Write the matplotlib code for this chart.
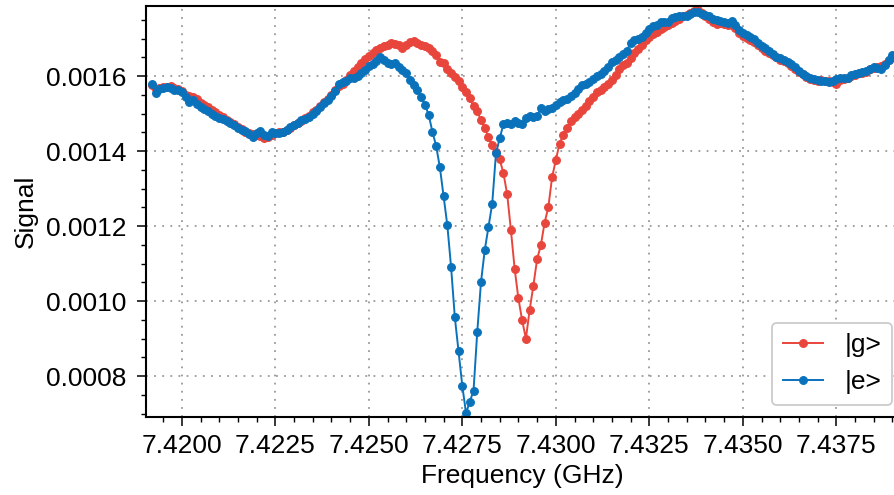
import numpy as np
import matplotlib
matplotlib.use("Agg")
import matplotlib.pyplot as plt
from matplotlib.ticker import MultipleLocator, FormatStrFormatter

plt.rcParams['font.family'] = ['Liberation Sans', 'DejaVu Sans']

# frequency sweep (GHz)
freq = np.linspace(7.4192, 7.4390, 199)

# measured signal for ground state |g> (units of 1e-6)
signal_g = np.array([
    1577, 1566, 1568, 1570, 1572, 1574, 1568, 1565, 1560, 1550,
    1546, 1545, 1540, 1528, 1522, 1518, 1509, 1505, 1496, 1490,
    1484, 1478, 1471, 1465, 1459, 1452, 1448, 1446, 1443, 1440,
    1434, 1438, 1444, 1447, 1450, 1452, 1457, 1462, 1470, 1474,
    1480, 1487, 1494, 1503, 1510, 1520, 1530, 1540, 1550, 1562,
    1574, 1580, 1590, 1602, 1613, 1624, 1636, 1645, 1653, 1662,
    1670, 1674, 1679, 1684, 1688, 1686, 1682, 1675, 1683, 1690,
    1694, 1689, 1684, 1680, 1675, 1667, 1656, 1638, 1634, 1620,
    1607, 1597, 1588, 1572, 1557, 1541, 1519, 1506, 1483, 1462,
    1437, 1415, 1398, 1378, 1341, 1285, 1189, 1086, 1007, 949,
    900, 976, 1041, 1112, 1149, 1209, 1250, 1330, 1376, 1420,
    1443, 1461, 1480, 1492, 1500, 1509, 1521, 1533, 1545, 1558,
    1563, 1570, 1579, 1589, 1603, 1619, 1630, 1635, 1648, 1661,
    1672, 1683, 1697, 1705, 1711, 1718, 1725, 1730, 1735, 1742,
    1748, 1753, 1759, 1763, 1769, 1774, 1775, 1767, 1760, 1752,
    1744, 1739, 1742, 1738, 1735, 1737, 1728, 1714, 1708, 1702,
    1695, 1690, 1684, 1676, 1668, 1662, 1656, 1650, 1644, 1640,
    1634, 1628, 1620, 1612, 1605, 1598, 1593, 1590, 1588, 1590,
    1587, 1586, 1583, 1580, 1589, 1592, 1594, 1600, 1604, 1607,
    1609, 1612, 1618, 1622, 1624, 1626, 1632, 1644, 1652,
]) * 1e-6

# measured signal for excited state |e> (units of 1e-6)
signal_e = np.array([
    1579, 1555, 1566, 1568, 1570, 1567, 1564, 1563, 1557, 1545,
    1532, 1537, 1526, 1518, 1513, 1507, 1499, 1494, 1489, 1485,
    1481, 1476, 1470, 1462, 1456, 1453, 1445, 1438, 1447, 1453,
    1444, 1440, 1452, 1448, 1449, 1450, 1456, 1463, 1469, 1476,
    1482, 1486, 1490, 1498, 1508, 1518, 1527, 1537, 1546, 1560,
    1578, 1584, 1588, 1594, 1596, 1599, 1607, 1615, 1627, 1633,
    1640, 1650, 1642, 1635, 1633, 1634, 1624, 1617, 1608, 1590,
    1576, 1562, 1543, 1524, 1497, 1452, 1414, 1357, 1280, 1202,
    1091, 957, 866, 774, 701, 732, 761, 918, 1051, 1136,
    1198, 1260, 1394, 1434, 1472, 1474, 1472, 1480, 1476, 1472,
    1487, 1494, 1490, 1493, 1516, 1506, 1511, 1516, 1522, 1530,
    1535, 1540, 1546, 1555, 1566, 1576, 1580, 1584, 1592, 1599,
    1606, 1614, 1624, 1638, 1643, 1650, 1659, 1668, 1688, 1695,
    1699, 1705, 1715, 1726, 1734, 1736, 1743, 1744, 1744, 1754,
    1757, 1759, 1760, 1760, 1765, 1771, 1772, 1765, 1762, 1760,
    1752, 1749, 1747, 1744, 1742, 1748, 1736, 1724, 1716, 1709,
    1704, 1699, 1689, 1681, 1674, 1667, 1659, 1652, 1647, 1642,
    1637, 1632, 1624, 1614, 1606, 1600, 1595, 1591, 1589, 1588,
    1586, 1585, 1588, 1592, 1595, 1596, 1596, 1602, 1606, 1608,
    1611, 1614, 1619, 1625, 1622, 1620, 1630, 1642, 1656,
]) * 1e-6

labels = ['|g>', '|e>']
colors = ['#e8453c', '#0a72bb']

fig = plt.figure(figsize=(8.95, 4.95), dpi=100)
ax = fig.add_axes([0.1626, 0.1576, 0.8416, 0.8303])

for sig, lab, col in zip([signal_g, signal_e], labels, colors):
    ax.plot(freq, sig, '-o', color=col, label=lab, lw=1.4, ms=5.6,
            mew=0.8, mec=col)

ax.set_xlim(7.41903, 7.43917)
ax.set_ylim(0.000691, 0.001787)

ax.xaxis.set_major_locator(MultipleLocator(0.0025))
ax.xaxis.set_minor_locator(MultipleLocator(0.0005))
ax.yaxis.set_major_locator(MultipleLocator(0.0002))
ax.yaxis.set_minor_locator(MultipleLocator(0.00005))
ax.xaxis.set_major_formatter(FormatStrFormatter('%.4f'))
ax.yaxis.set_major_formatter(FormatStrFormatter('%.4f'))

ax.tick_params(which='major', direction='out', length=6.5, width=1.1,
               labelsize=19, pad=6)
ax.tick_params(which='minor', direction='out', length=3.5, width=1.0)
ax.tick_params(axis='y', which='major', pad=7)

for sp in ax.spines.values():
    sp.set_linewidth(1.5)

ax.grid(True, which='major', color='#999999', lw=1.3, ls=(0, (1, 3.5)))

ax.set_xlabel('Frequency (GHz)', fontsize=19, labelpad=4)
ax.set_ylabel('Signal', fontsize=19, labelpad=6)

leg = ax.legend(loc='lower right', fontsize=19, numpoints=1,
                handlelength=1.55, borderaxespad=0,
                bbox_to_anchor=(892 / 895, 90 / 495),
                bbox_transform=fig.transFigure, fancybox=True,
                framealpha=1.0, edgecolor='#cccccc')
leg.get_frame().set_linewidth(1.3)

fig.savefig('out.png', dpi=100)
